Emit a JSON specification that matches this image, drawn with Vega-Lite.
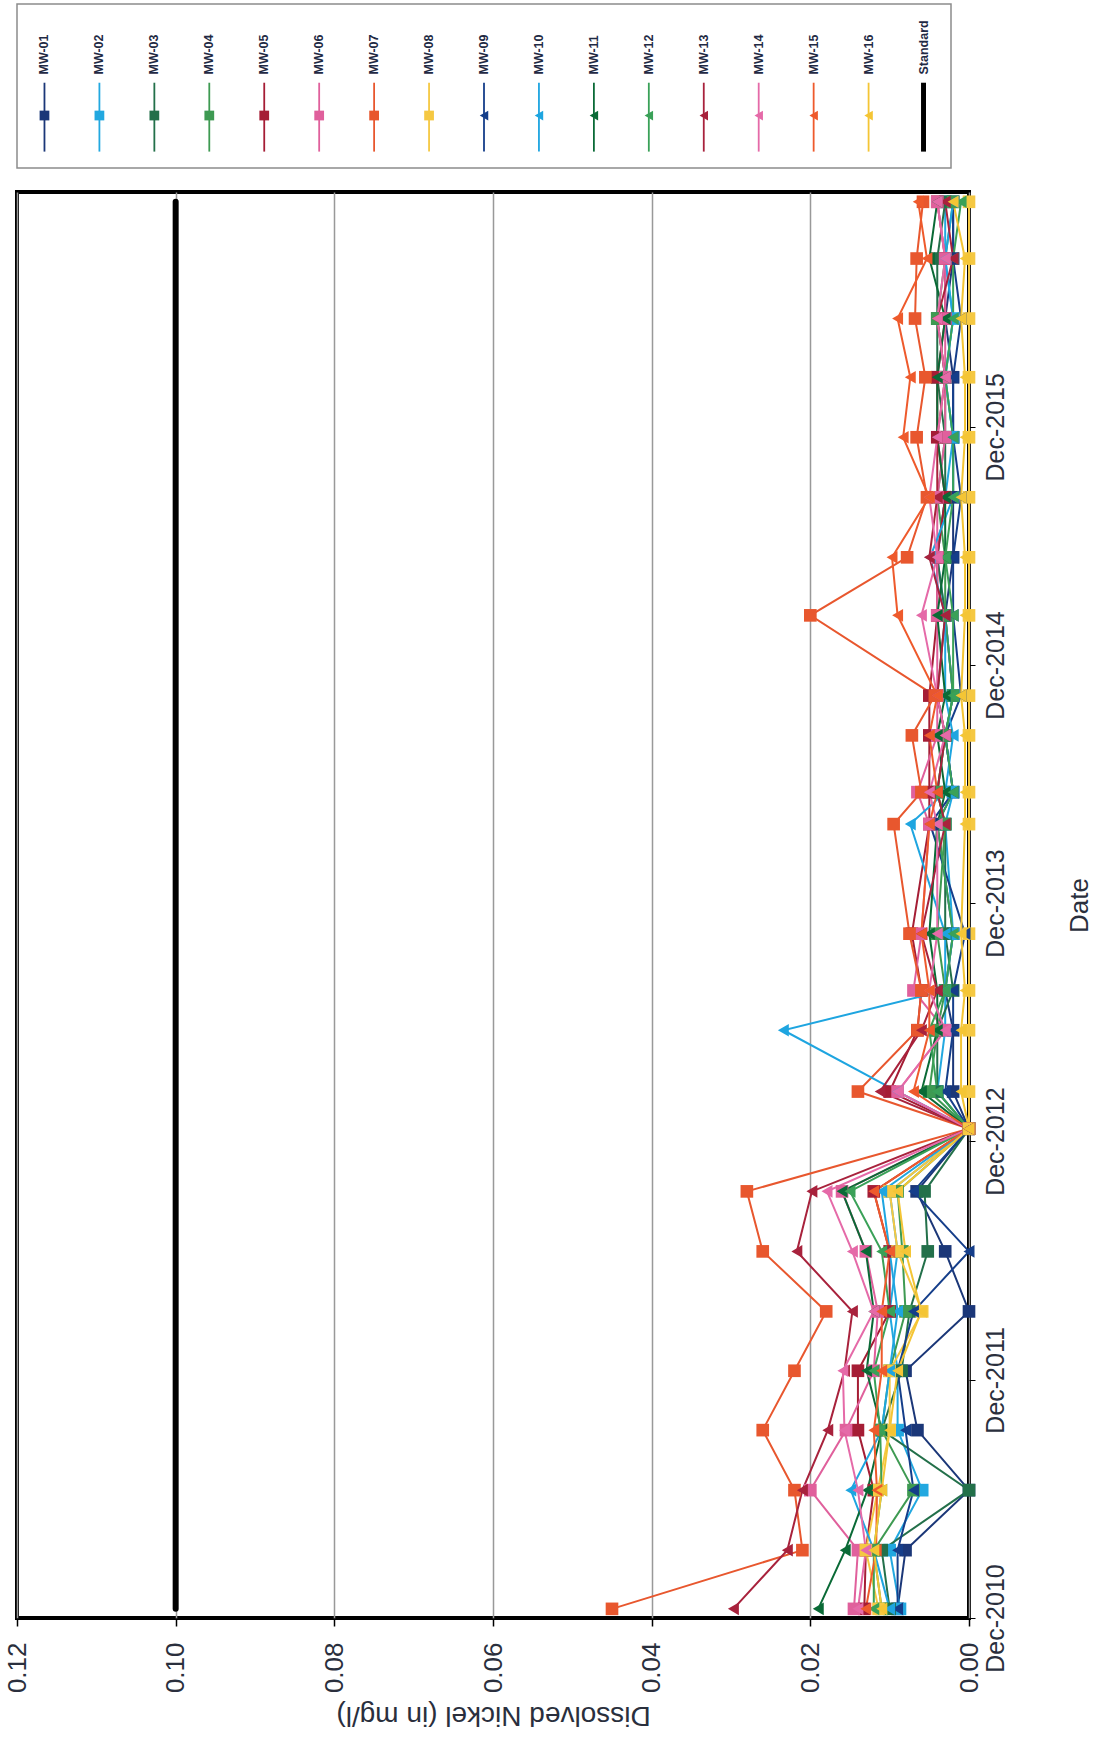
{
"$schema":"https://vega.github.io/schema/vega-lite/v6.json",
"background":"white",
"padding":{"left":2,"top":3,"right":5,"bottom":5},
"bounds":"flush",
"spacing":24,
"config":{"font":"Liberation Sans","view":{"stroke":null}},
"resolve":{"scale":{"x":"independent","y":"independent"}},
"datasets":{
"legend":[{"series":"MW-01"},{"series":"MW-02"},{"series":"MW-03"},{"series":"MW-04"},{"series":"MW-05"},{"series":"MW-06"},{"series":"MW-07"},{"series":"MW-08"},{"series":"MW-09"},{"series":"MW-10"},{"series":"MW-11"},{"series":"MW-12"},{"series":"MW-13"},{"series":"MW-14"},{"series":"MW-15"},{"series":"MW-16"},{"series":"Standard"}],
"samples":[
{"series":"Standard","date":"2010-12-15","value":0.1},{"series":"Standard","date":"2016-11-10","value":0.1},
{"series":"MW-01","date":"2010-12-15","value":0.009},{"series":"MW-01","date":"2011-03-15","value":0.008},{"series":"MW-01","date":"2011-06-15","value":0},{"series":"MW-01","date":"2011-09-15","value":0.0065},{"series":"MW-01","date":"2011-12-15","value":0.008},{"series":"MW-01","date":"2012-03-15","value":0},{"series":"MW-01","date":"2012-06-15","value":0.003},{"series":"MW-01","date":"2012-09-15","value":0.0066},{"series":"MW-01","date":"2012-12-20","value":0},{"series":"MW-01","date":"2013-02-15","value":0.002},{"series":"MW-01","date":"2013-05-20","value":0.002},{"series":"MW-01","date":"2013-07-20","value":0.003},{"series":"MW-01","date":"2013-10-15","value":0.002},{"series":"MW-01","date":"2014-04-01","value":0.004},{"series":"MW-01","date":"2014-05-20","value":0.002},{"series":"MW-01","date":"2014-08-15","value":0.003},{"series":"MW-01","date":"2014-10-15","value":0.002},{"series":"MW-01","date":"2015-02-15","value":0.003},{"series":"MW-01","date":"2015-05-15","value":0.002},{"series":"MW-01","date":"2015-08-15","value":0.002},{"series":"MW-01","date":"2015-11-15","value":0.002},{"series":"MW-01","date":"2016-02-15","value":0.002},{"series":"MW-01","date":"2016-05-15","value":0.003},{"series":"MW-01","date":"2016-08-15","value":0.002},{"series":"MW-01","date":"2016-11-10","value":0.002},
{"series":"MW-02","date":"2010-12-15","value":0.0087},{"series":"MW-02","date":"2011-03-15","value":0.01},{"series":"MW-02","date":"2011-06-15","value":0.0059},{"series":"MW-02","date":"2011-09-15","value":0.009},{"series":"MW-02","date":"2011-12-15","value":0.009},{"series":"MW-02","date":"2012-03-15","value":0.01},{"series":"MW-02","date":"2012-06-15","value":0.009},{"series":"MW-02","date":"2012-09-15","value":0.01},{"series":"MW-02","date":"2012-12-20","value":0},{"series":"MW-02","date":"2013-02-15","value":0.004},{"series":"MW-02","date":"2013-05-20","value":0.003},{"series":"MW-02","date":"2013-07-20","value":0.003},{"series":"MW-02","date":"2013-10-15","value":0.002},{"series":"MW-02","date":"2014-04-01","value":0.003},{"series":"MW-02","date":"2014-05-20","value":0.002},{"series":"MW-02","date":"2014-08-15","value":0.003},{"series":"MW-02","date":"2014-10-15","value":0.002},{"series":"MW-02","date":"2015-02-15","value":0.003},{"series":"MW-02","date":"2015-05-15","value":0.004},{"series":"MW-02","date":"2015-08-15","value":0.003},{"series":"MW-02","date":"2015-11-15","value":0.002},{"series":"MW-02","date":"2016-02-15","value":0.003},{"series":"MW-02","date":"2016-05-15","value":0.002},{"series":"MW-02","date":"2016-08-15","value":0.003},{"series":"MW-02","date":"2016-11-10","value":0.003},
{"series":"MW-03","date":"2010-12-15","value":0.01},{"series":"MW-03","date":"2011-03-15","value":0.011},{"series":"MW-03","date":"2011-06-15","value":0},{"series":"MW-03","date":"2011-09-15","value":0.011},{"series":"MW-03","date":"2011-12-15","value":0.0085},{"series":"MW-03","date":"2012-03-15","value":0.0075},{"series":"MW-03","date":"2012-06-15","value":0.0052},{"series":"MW-03","date":"2012-09-15","value":0.0056},{"series":"MW-03","date":"2012-12-20","value":0},{"series":"MW-03","date":"2013-02-15","value":0.004},{"series":"MW-03","date":"2013-05-20","value":0.004},{"series":"MW-03","date":"2013-07-20","value":0.002},{"series":"MW-03","date":"2013-10-15","value":0.003},{"series":"MW-03","date":"2014-04-01","value":0.003},{"series":"MW-03","date":"2014-05-20","value":0.004},{"series":"MW-03","date":"2014-08-15","value":0.003},{"series":"MW-03","date":"2014-10-15","value":0.004},{"series":"MW-03","date":"2015-02-15","value":0.003},{"series":"MW-03","date":"2015-05-15","value":0.004},{"series":"MW-03","date":"2015-08-15","value":0.003},{"series":"MW-03","date":"2015-11-15","value":0.003},{"series":"MW-03","date":"2016-02-15","value":0.004},{"series":"MW-03","date":"2016-05-15","value":0.004},{"series":"MW-03","date":"2016-08-15","value":0.004},{"series":"MW-03","date":"2016-11-10","value":0.003},
{"series":"MW-04","date":"2010-12-15","value":0.011},{"series":"MW-04","date":"2011-03-15","value":0.012},{"series":"MW-04","date":"2011-06-15","value":0.007},{"series":"MW-04","date":"2011-09-15","value":0.011},{"series":"MW-04","date":"2011-12-15","value":0.01},{"series":"MW-04","date":"2012-03-15","value":0.008},{"series":"MW-04","date":"2012-06-15","value":0.0084},{"series":"MW-04","date":"2012-09-15","value":0.009},{"series":"MW-04","date":"2012-12-20","value":0},{"series":"MW-04","date":"2013-02-15","value":0.005},{"series":"MW-04","date":"2013-05-20","value":0.004},{"series":"MW-04","date":"2013-07-20","value":0.003},{"series":"MW-04","date":"2013-10-15","value":0.004},{"series":"MW-04","date":"2014-04-01","value":0.003},{"series":"MW-04","date":"2014-05-20","value":0.004},{"series":"MW-04","date":"2014-08-15","value":0.003},{"series":"MW-04","date":"2014-10-15","value":0.002},{"series":"MW-04","date":"2015-02-15","value":0.003},{"series":"MW-04","date":"2015-05-15","value":0.003},{"series":"MW-04","date":"2015-08-15","value":0.004},{"series":"MW-04","date":"2015-11-15","value":0.003},{"series":"MW-04","date":"2016-02-15","value":0.003},{"series":"MW-04","date":"2016-05-15","value":0.004},{"series":"MW-04","date":"2016-08-15","value":0.003},{"series":"MW-04","date":"2016-11-10","value":0.002},
{"series":"MW-05","date":"2010-12-15","value":0.0132},{"series":"MW-05","date":"2011-03-15","value":0.013},{"series":"MW-05","date":"2011-06-15","value":0.012},{"series":"MW-05","date":"2011-09-15","value":0.014},{"series":"MW-05","date":"2011-12-15","value":0.014},{"series":"MW-05","date":"2012-03-15","value":0.01},{"series":"MW-05","date":"2012-06-15","value":0.01},{"series":"MW-05","date":"2012-09-15","value":0.012},{"series":"MW-05","date":"2012-12-20","value":0},{"series":"MW-05","date":"2013-02-15","value":0.01},{"series":"MW-05","date":"2013-05-20","value":0.0065},{"series":"MW-05","date":"2013-07-20","value":0.006},{"series":"MW-05","date":"2013-10-15","value":0.0072},{"series":"MW-05","date":"2014-04-01","value":0.005},{"series":"MW-05","date":"2014-05-20","value":0.005},{"series":"MW-05","date":"2014-08-15","value":0.005},{"series":"MW-05","date":"2014-10-15","value":0.005},{"series":"MW-05","date":"2015-02-15","value":0.004},{"series":"MW-05","date":"2015-05-15","value":0.004},{"series":"MW-05","date":"2015-08-15","value":0.003},{"series":"MW-05","date":"2015-11-15","value":0.004},{"series":"MW-05","date":"2016-02-15","value":0.004},{"series":"MW-05","date":"2016-05-15","value":0.003},{"series":"MW-05","date":"2016-08-15","value":0.003},{"series":"MW-05","date":"2016-11-10","value":0.004},
{"series":"MW-06","date":"2010-12-15","value":0.0145},{"series":"MW-06","date":"2011-03-15","value":0.014},{"series":"MW-06","date":"2011-06-15","value":0.02},{"series":"MW-06","date":"2011-09-15","value":0.0155},{"series":"MW-06","date":"2011-12-15","value":0.012},{"series":"MW-06","date":"2012-03-15","value":0.0115},{"series":"MW-06","date":"2012-06-15","value":0.013},{"series":"MW-06","date":"2012-09-15","value":0.016},{"series":"MW-06","date":"2012-12-20","value":0},{"series":"MW-06","date":"2013-02-15","value":0.009},{"series":"MW-06","date":"2013-05-20","value":0.003},{"series":"MW-06","date":"2013-07-20","value":0.007},{"series":"MW-06","date":"2013-10-15","value":0.006},{"series":"MW-06","date":"2014-04-01","value":0.005},{"series":"MW-06","date":"2014-05-20","value":0.0065},{"series":"MW-06","date":"2014-08-15","value":0.004},{"series":"MW-06","date":"2014-10-15","value":0.004},{"series":"MW-06","date":"2015-02-15","value":0.004},{"series":"MW-06","date":"2015-05-15","value":0.004},{"series":"MW-06","date":"2015-08-15","value":0.004},{"series":"MW-06","date":"2015-11-15","value":0.003},{"series":"MW-06","date":"2016-02-15","value":0.003},{"series":"MW-06","date":"2016-05-15","value":0.003},{"series":"MW-06","date":"2016-08-15","value":0.003},{"series":"MW-06","date":"2016-11-10","value":0.004},
{"series":"MW-07","date":"2010-12-15","value":0.045},{"series":"MW-07","date":"2011-03-15","value":0.021},{"series":"MW-07","date":"2011-06-15","value":0.022},{"series":"MW-07","date":"2011-09-15","value":0.026},{"series":"MW-07","date":"2011-12-15","value":0.022},{"series":"MW-07","date":"2012-03-15","value":0.018},{"series":"MW-07","date":"2012-06-15","value":0.026},{"series":"MW-07","date":"2012-09-15","value":0.028},{"series":"MW-07","date":"2012-12-20","value":0},{"series":"MW-07","date":"2013-02-15","value":0.014},{"series":"MW-07","date":"2013-05-20","value":0.0065},{"series":"MW-07","date":"2013-07-20","value":0.006},{"series":"MW-07","date":"2013-10-15","value":0.0075},{"series":"MW-07","date":"2014-04-01","value":0.0095},{"series":"MW-07","date":"2014-05-20","value":0.006},{"series":"MW-07","date":"2014-08-15","value":0.0072},{"series":"MW-07","date":"2014-10-15","value":0.0043},{"series":"MW-07","date":"2015-02-15","value":0.02},{"series":"MW-07","date":"2015-05-15","value":0.0078},{"series":"MW-07","date":"2015-08-15","value":0.0053},{"series":"MW-07","date":"2015-11-15","value":0.0066},{"series":"MW-07","date":"2016-02-15","value":0.0055},{"series":"MW-07","date":"2016-05-15","value":0.0068},{"series":"MW-07","date":"2016-08-15","value":0.0066},{"series":"MW-07","date":"2016-11-10","value":0.0058},
{"series":"MW-08","date":"2010-12-15","value":0.0114},{"series":"MW-08","date":"2011-03-15","value":0.013},{"series":"MW-08","date":"2011-06-15","value":0.0115},{"series":"MW-08","date":"2011-09-15","value":0.01},{"series":"MW-08","date":"2011-12-15","value":0.01},{"series":"MW-08","date":"2012-03-15","value":0.0059},{"series":"MW-08","date":"2012-06-15","value":0.009},{"series":"MW-08","date":"2012-09-15","value":0.01},{"series":"MW-08","date":"2012-12-20","value":0},{"series":"MW-08","date":"2013-02-15","value":0},{"series":"MW-08","date":"2013-05-20","value":0},{"series":"MW-08","date":"2013-07-20","value":0},{"series":"MW-08","date":"2013-10-15","value":0},{"series":"MW-08","date":"2014-04-01","value":0},{"series":"MW-08","date":"2014-05-20","value":0},{"series":"MW-08","date":"2014-08-15","value":0},{"series":"MW-08","date":"2014-10-15","value":0},{"series":"MW-08","date":"2015-02-15","value":0},{"series":"MW-08","date":"2015-05-15","value":0},{"series":"MW-08","date":"2015-08-15","value":0},{"series":"MW-08","date":"2015-11-15","value":0},{"series":"MW-08","date":"2016-02-15","value":0},{"series":"MW-08","date":"2016-05-15","value":0},{"series":"MW-08","date":"2016-08-15","value":0},{"series":"MW-08","date":"2016-11-10","value":0},
{"series":"MW-09","date":"2010-12-15","value":0.009},{"series":"MW-09","date":"2011-03-15","value":0.009},{"series":"MW-09","date":"2011-06-15","value":0.007},{"series":"MW-09","date":"2011-09-15","value":0.008},{"series":"MW-09","date":"2011-12-15","value":0.009},{"series":"MW-09","date":"2012-03-15","value":0.007},{"series":"MW-09","date":"2012-06-15","value":0},{"series":"MW-09","date":"2012-09-15","value":0.007},{"series":"MW-09","date":"2012-12-20","value":0},{"series":"MW-09","date":"2013-02-15","value":0.003},{"series":"MW-09","date":"2013-05-20","value":0.002},{"series":"MW-09","date":"2013-07-20","value":0.002},{"series":"MW-09","date":"2013-10-15","value":0.0005},{"series":"MW-09","date":"2014-04-01","value":0.0049},{"series":"MW-09","date":"2014-05-20","value":0.002},{"series":"MW-09","date":"2014-08-15","value":0.003},{"series":"MW-09","date":"2014-10-15","value":0.001},{"series":"MW-09","date":"2015-02-15","value":0.002},{"series":"MW-09","date":"2015-05-15","value":0.002},{"series":"MW-09","date":"2015-08-15","value":0.001},{"series":"MW-09","date":"2015-11-15","value":0.002},{"series":"MW-09","date":"2016-02-15","value":0.002},{"series":"MW-09","date":"2016-05-15","value":0.001},{"series":"MW-09","date":"2016-08-15","value":0.002},{"series":"MW-09","date":"2016-11-10","value":0.002},
{"series":"MW-10","date":"2010-12-15","value":0.01},{"series":"MW-10","date":"2011-03-15","value":0.012},{"series":"MW-10","date":"2011-06-15","value":0.0149},{"series":"MW-10","date":"2011-09-15","value":0.011},{"series":"MW-10","date":"2011-12-15","value":0.01},{"series":"MW-10","date":"2012-03-15","value":0.009},{"series":"MW-10","date":"2012-06-15","value":0.01},{"series":"MW-10","date":"2012-09-15","value":0.011},{"series":"MW-10","date":"2012-12-20","value":0},{"series":"MW-10","date":"2013-02-15","value":0.009},{"series":"MW-10","date":"2013-05-20","value":0.0234},{"series":"MW-10","date":"2013-07-20","value":0.003},{"series":"MW-10","date":"2013-10-15","value":0.003},{"series":"MW-10","date":"2014-04-01","value":0.0074},{"series":"MW-10","date":"2014-05-20","value":0.003},{"series":"MW-10","date":"2014-08-15","value":0.002},{"series":"MW-10","date":"2014-10-15","value":0.003},{"series":"MW-10","date":"2015-02-15","value":0.003},{"series":"MW-10","date":"2015-05-15","value":0.0049},{"series":"MW-10","date":"2015-08-15","value":0.002},{"series":"MW-10","date":"2015-11-15","value":0.002},{"series":"MW-10","date":"2016-02-15","value":0.003},{"series":"MW-10","date":"2016-05-15","value":0.002},{"series":"MW-10","date":"2016-08-15","value":0.003},{"series":"MW-10","date":"2016-11-10","value":0.002},
{"series":"MW-11","date":"2010-12-15","value":0.019},{"series":"MW-11","date":"2011-03-15","value":0.0156},{"series":"MW-11","date":"2011-06-15","value":0.0128},{"series":"MW-11","date":"2011-09-15","value":0.011},{"series":"MW-11","date":"2011-12-15","value":0.0129},{"series":"MW-11","date":"2012-03-15","value":0.012},{"series":"MW-11","date":"2012-06-15","value":0.013},{"series":"MW-11","date":"2012-09-15","value":0.016},{"series":"MW-11","date":"2012-12-20","value":0},{"series":"MW-11","date":"2013-02-15","value":0.006},{"series":"MW-11","date":"2013-05-20","value":0.004},{"series":"MW-11","date":"2013-07-20","value":0.004},{"series":"MW-11","date":"2013-10-15","value":0.005},{"series":"MW-11","date":"2014-04-01","value":0.004},{"series":"MW-11","date":"2014-05-20","value":0.003},{"series":"MW-11","date":"2014-08-15","value":0.004},{"series":"MW-11","date":"2014-10-15","value":0.003},{"series":"MW-11","date":"2015-02-15","value":0.004},{"series":"MW-11","date":"2015-05-15","value":0.003},{"series":"MW-11","date":"2015-08-15","value":0.003},{"series":"MW-11","date":"2015-11-15","value":0.004},{"series":"MW-11","date":"2016-02-15","value":0.004},{"series":"MW-11","date":"2016-05-15","value":0.003},{"series":"MW-11","date":"2016-08-15","value":0.005},{"series":"MW-11","date":"2016-11-10","value":0.004},
{"series":"MW-12","date":"2010-12-15","value":0.012},{"series":"MW-12","date":"2011-03-15","value":0.012},{"series":"MW-12","date":"2011-06-15","value":0.011},{"series":"MW-12","date":"2011-09-15","value":0.0112},{"series":"MW-12","date":"2011-12-15","value":0.012},{"series":"MW-12","date":"2012-03-15","value":0.01},{"series":"MW-12","date":"2012-06-15","value":0.011},{"series":"MW-12","date":"2012-09-15","value":0.015},{"series":"MW-12","date":"2012-12-20","value":0},{"series":"MW-12","date":"2013-02-15","value":0.004},{"series":"MW-12","date":"2013-05-20","value":0.005},{"series":"MW-12","date":"2013-07-20","value":0.003},{"series":"MW-12","date":"2013-10-15","value":0.002},{"series":"MW-12","date":"2014-04-01","value":0.004},{"series":"MW-12","date":"2014-05-20","value":0.002},{"series":"MW-12","date":"2014-08-15","value":0.003},{"series":"MW-12","date":"2014-10-15","value":0.002},{"series":"MW-12","date":"2015-02-15","value":0.002},{"series":"MW-12","date":"2015-05-15","value":0.003},{"series":"MW-12","date":"2015-08-15","value":0.002},{"series":"MW-12","date":"2015-11-15","value":0.002},{"series":"MW-12","date":"2016-02-15","value":0.003},{"series":"MW-12","date":"2016-05-15","value":0.002},{"series":"MW-12","date":"2016-08-15","value":0.002},{"series":"MW-12","date":"2016-11-10","value":0.001},
{"series":"MW-13","date":"2010-12-15","value":0.0297},{"series":"MW-13","date":"2011-03-15","value":0.0229},{"series":"MW-13","date":"2011-06-15","value":0.021},{"series":"MW-13","date":"2011-09-15","value":0.0178},{"series":"MW-13","date":"2011-12-15","value":0.0157},{"series":"MW-13","date":"2012-03-15","value":0.0147},{"series":"MW-13","date":"2012-06-15","value":0.0217},{"series":"MW-13","date":"2012-09-15","value":0.0198},{"series":"MW-13","date":"2012-12-20","value":0},{"series":"MW-13","date":"2013-02-15","value":0.0112},{"series":"MW-13","date":"2013-05-20","value":0.006},{"series":"MW-13","date":"2013-07-20","value":0.004},{"series":"MW-13","date":"2013-10-15","value":0.006},{"series":"MW-13","date":"2014-04-01","value":0.003},{"series":"MW-13","date":"2014-05-20","value":0.004},{"series":"MW-13","date":"2014-08-15","value":0.003},{"series":"MW-13","date":"2014-10-15","value":0.004},{"series":"MW-13","date":"2015-02-15","value":0.003},{"series":"MW-13","date":"2015-05-15","value":0.005},{"series":"MW-13","date":"2015-08-15","value":0.004},{"series":"MW-13","date":"2015-11-15","value":0.004},{"series":"MW-13","date":"2016-02-15","value":0.003},{"series":"MW-13","date":"2016-05-15","value":0.004},{"series":"MW-13","date":"2016-08-15","value":0.002},{"series":"MW-13","date":"2016-11-10","value":0.003},
{"series":"MW-14","date":"2010-12-15","value":0.014},{"series":"MW-14","date":"2011-03-15","value":0.013},{"series":"MW-14","date":"2011-06-15","value":0.014},{"series":"MW-14","date":"2011-09-15","value":0.0157},{"series":"MW-14","date":"2011-12-15","value":0.0159},{"series":"MW-14","date":"2012-03-15","value":0.012},{"series":"MW-14","date":"2012-06-15","value":0.0147},{"series":"MW-14","date":"2012-09-15","value":0.0179},{"series":"MW-14","date":"2012-12-20","value":0},{"series":"MW-14","date":"2013-02-15","value":0.009},{"series":"MW-14","date":"2013-05-20","value":0.003},{"series":"MW-14","date":"2013-07-20","value":0.005},{"series":"MW-14","date":"2013-10-15","value":0.004},{"series":"MW-14","date":"2014-04-01","value":0.004},{"series":"MW-14","date":"2014-05-20","value":0.005},{"series":"MW-14","date":"2014-08-15","value":0.003},{"series":"MW-14","date":"2014-10-15","value":0.004},{"series":"MW-14","date":"2015-02-15","value":0.006},{"series":"MW-14","date":"2015-05-15","value":0.004},{"series":"MW-14","date":"2015-08-15","value":0.005},{"series":"MW-14","date":"2015-11-15","value":0.004},{"series":"MW-14","date":"2016-02-15","value":0.003},{"series":"MW-14","date":"2016-05-15","value":0.004},{"series":"MW-14","date":"2016-08-15","value":0.003},{"series":"MW-14","date":"2016-11-10","value":0.004},
{"series":"MW-15","date":"2010-12-15","value":0.013},{"series":"MW-15","date":"2011-03-15","value":0.0117},{"series":"MW-15","date":"2011-06-15","value":0.0116},{"series":"MW-15","date":"2011-09-15","value":0.012},{"series":"MW-15","date":"2011-12-15","value":0.011},{"series":"MW-15","date":"2012-03-15","value":0.011},{"series":"MW-15","date":"2012-06-15","value":0.01},{"series":"MW-15","date":"2012-09-15","value":0.012},{"series":"MW-15","date":"2012-12-20","value":0},{"series":"MW-15","date":"2013-02-15","value":0.007},{"series":"MW-15","date":"2013-05-20","value":0.005},{"series":"MW-15","date":"2013-07-20","value":0.005},{"series":"MW-15","date":"2013-10-15","value":0.006},{"series":"MW-15","date":"2014-04-01","value":0.005},{"series":"MW-15","date":"2014-05-20","value":0.004},{"series":"MW-15","date":"2014-08-15","value":0.005},{"series":"MW-15","date":"2014-10-15","value":0.004},{"series":"MW-15","date":"2015-02-15","value":0.009},{"series":"MW-15","date":"2015-05-15","value":0.0097},{"series":"MW-15","date":"2015-08-15","value":0.005},{"series":"MW-15","date":"2015-11-15","value":0.0083},{"series":"MW-15","date":"2016-02-15","value":0.0074},{"series":"MW-15","date":"2016-05-15","value":0.009},{"series":"MW-15","date":"2016-08-15","value":0.0053},{"series":"MW-15","date":"2016-11-10","value":0.0064},
{"series":"MW-16","date":"2010-12-15","value":0.011},{"series":"MW-16","date":"2011-03-15","value":0.012},{"series":"MW-16","date":"2011-06-15","value":0.011},{"series":"MW-16","date":"2011-09-15","value":0.01},{"series":"MW-16","date":"2011-12-15","value":0.009},{"series":"MW-16","date":"2012-03-15","value":0.006},{"series":"MW-16","date":"2012-06-15","value":0.008},{"series":"MW-16","date":"2012-09-15","value":0.009},{"series":"MW-16","date":"2012-12-20","value":0},{"series":"MW-16","date":"2013-02-15","value":0.001},{"series":"MW-16","date":"2013-05-20","value":0.001},{"series":"MW-16","date":"2013-07-20","value":0.0005},{"series":"MW-16","date":"2013-10-15","value":0.001},{"series":"MW-16","date":"2014-04-01","value":0.0005},{"series":"MW-16","date":"2014-05-20","value":0.0005},{"series":"MW-16","date":"2014-08-15","value":0.0005},{"series":"MW-16","date":"2014-10-15","value":0.001},{"series":"MW-16","date":"2015-02-15","value":0.0005},{"series":"MW-16","date":"2015-05-15","value":0.0005},{"series":"MW-16","date":"2015-08-15","value":0.001},{"series":"MW-16","date":"2015-11-15","value":0.0005},{"series":"MW-16","date":"2016-02-15","value":0.0005},{"series":"MW-16","date":"2016-05-15","value":0.001},{"series":"MW-16","date":"2016-08-15","value":0.0005},{"series":"MW-16","date":"2016-11-10","value":0.002}
]},
"vconcat":[
{
"width":934,"height":164,
"data":{"name":"legend"},
"view":{"stroke":"#8c8c8c","strokeWidth":1.5},
"encoding":{"x":{"field":"series","type":"nominal","scale":{"type":"point","padding":0.5,"domain":["MW-01","MW-02","MW-03","MW-04","MW-05","MW-06","MW-07","MW-08","MW-09","MW-10","MW-11","MW-12","MW-13","MW-14","MW-15","MW-16","Standard"]},"axis":null}},
"layer":[
{"mark":{"type":"rule"},
"encoding":{"y":{"datum":0.48,"type":"quantitative","scale":{"domain":[0,1],"reverse":true},"axis":null},"y2":{"datum":0.9},
"color":{"field":"series","type":"nominal","scale":{"domain":["MW-01","MW-02","MW-03","MW-04","MW-05","MW-06","MW-07","MW-08","MW-09","MW-10","MW-11","MW-12","MW-13","MW-14","MW-15","MW-16","Standard"],"range":["#1b3778","#22a8e0","#23704a","#3e9a52","#a51d35","#e0609c","#e8572e","#f5c842","#153e8a","#1ea5e0","#0a6a36","#3aa158","#a8223c","#e56aa8","#ee5a2c","#f4c535","#000000"]},"legend":null},
"strokeWidth":{"condition":{"test":"datum.series === 'Standard'","value":5},"value":1.8}}},
{"transform":[{"filter":"datum.series !== 'Standard'"}],
"mark":{"type":"point","filled":true,"opacity":1,"size":95},
"encoding":{"y":{"datum":0.68,"type":"quantitative"},
"color":{"field":"series","type":"nominal","legend":null},
"shape":{"field":"series","type":"nominal","scale":{"domain":["MW-01","MW-02","MW-03","MW-04","MW-05","MW-06","MW-07","MW-08","MW-09","MW-10","MW-11","MW-12","MW-13","MW-14","MW-15","MW-16"],"range":["square","square","square","square","square","square","square","square","triangle-left","triangle-left","triangle-left","triangle-left","triangle-left","triangle-left","triangle-left","triangle-left"]},"legend":null}}},
{"mark":{"type":"text","angle":270,"align":"left","baseline":"middle","fontSize":12.5,"fontWeight":"bold","color":"#1f2a44"},
"encoding":{"y":{"datum":0.43,"type":"quantitative"},"text":{"field":"series"}}}
]
},
{
"width":952,"height":1426,
"data":{"name":"samples"},
"view":{"stroke":"black","strokeWidth":4},
"encoding":{
"x":{"field":"value","type":"quantitative","scale":{"domain":[0,0.12],"reverse":true,"nice":false,"zero":false},
"axis":{"orient":"bottom","values":[0,0.02,0.04,0.06,0.08,0.1,0.12],"format":".2f","labelAngle":270,"labelAlign":"right","labelBaseline":"middle","labelFontSize":26,"labelColor":"#2a2f3d","labelPadding":16,"tickSize":8,"tickColor":"black","tickWidth":1.5,"domain":false,"grid":true,"gridColor":"#999999","gridWidth":1.5,"title":"Dissolved Nickel (in mg/l)","titleAngle":180,"titleBaseline":"bottom","titleFontSize":28,"titleFontWeight":"normal","titleColor":"#2a2f3d","titlePadding":8}},
"y":{"field":"date","type":"temporal","scale":{"type":"utc","domain":[{"year":2010,"month":12,"date":1,"utc":true},{"year":2016,"month":11,"date":25,"utc":true}]},
"axis":{"orient":"right","values":[{"year":2010,"month":12,"date":1,"utc":true},{"year":2011,"month":12,"date":1,"utc":true},{"year":2012,"month":12,"date":1,"utc":true},{"year":2013,"month":12,"date":1,"utc":true},{"year":2014,"month":12,"date":1,"utc":true},{"year":2015,"month":12,"date":1,"utc":true}],"format":"%b-%Y","labelAngle":270,"labelAlign":"center","labelBaseline":"top","labelFontSize":25,"labelColor":"#2a2f3d","labelPadding":8,"tickSize":6,"tickColor":"black","domain":false,"grid":false,"title":"Date","titleAngle":270,"titleBaseline":"top","titleFontSize":26,"titleFontWeight":"normal","titleColor":"#2a2f3d","titlePadding":58}}
},
"layer":[
{"transform":[{"filter":"datum.series === 'Standard'"}],
"mark":{"type":"line","color":"black","strokeWidth":6,"strokeCap":"round"},
"encoding":{"order":{"field":"date","type":"temporal"}}},
{"transform":[{"filter":"datum.series !== 'Standard'"}],
"mark":{"type":"line","strokeWidth":2},
"encoding":{"color":{"field":"series","type":"nominal","legend":null},"order":{"field":"date","type":"temporal"}}},
{"transform":[{"filter":"datum.series !== 'Standard'"}],
"mark":{"type":"point","filled":true,"opacity":1,"size":160},
"encoding":{"color":{"field":"series","type":"nominal","legend":null},"shape":{"field":"series","type":"nominal","legend":null}}}
]
}
]
}
